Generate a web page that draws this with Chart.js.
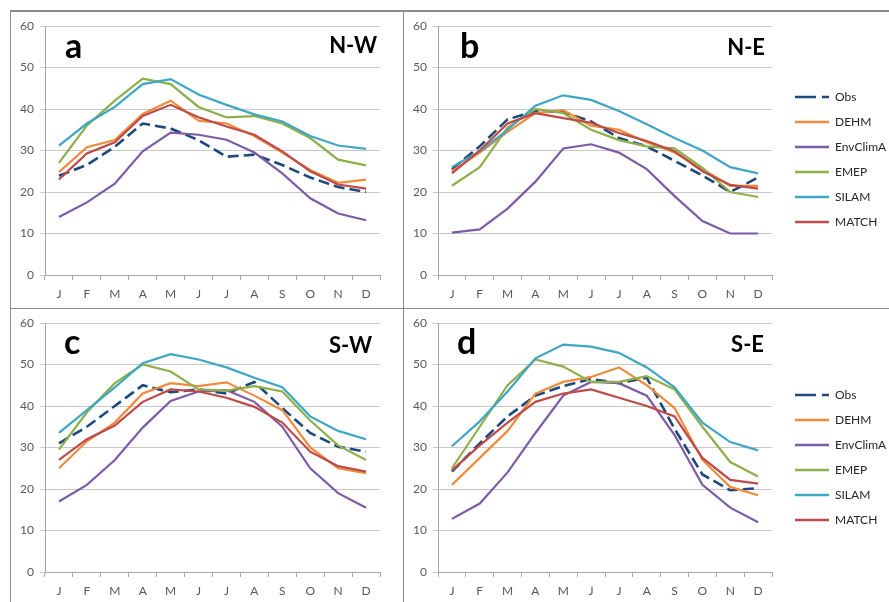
<!DOCTYPE html>
<html><head><meta charset="utf-8">
<script src="https://cdn.jsdelivr.net/npm/chart.js@4/dist/chart.umd.min.js"></script>
<style>
html,body{margin:0;padding:0;background:#fff;width:889px;height:602px;overflow:hidden;font-family:Lato,sans-serif}
.c{position:absolute}
.ln{position:absolute;background:#8c8c8c}
</style></head><body>
<div class="ln" style="left:10px;top:10px;width:879px;height:2px"></div>
<div class="ln" style="left:10px;top:10px;width:1px;height:592px"></div>
<div class="ln" style="left:403px;top:10px;width:1px;height:592px"></div>
<div class="ln" style="left:10px;top:308px;width:879px;height:1px"></div>
<div class="c" style="left:11px;top:12px;width:391px;height:296px"><canvas id="ca"></canvas></div>
<div class="c" style="left:404px;top:12px;width:485px;height:296px"><canvas id="cb"></canvas></div>
<div class="c" style="left:11px;top:309px;width:391px;height:293px"><canvas id="cc"></canvas></div>
<div class="c" style="left:404px;top:309px;width:485px;height:293px"><canvas id="cd"></canvas></div>
<script>
const months = ['J','F','M','A','M','J','J','A','S','O','N','D'];
const seriesNames = ['Obs','DEHM','EnvClimA','EMEP','SILAM','MATCH'];
const yTicks = [0,10,20,30,40,50,60];

// a: N-W
const nwObs      = [23.9,26.5,30.9,36.5,35.3,32.5,28.5,29.0,26.5,23.5,21.2,20.0];
const nwDEHM     = [24.8,30.8,32.5,38.8,42.0,37.2,36.5,33.5,29.5,25.3,22.2,23.0];
const nwEnvClimA = [14.0,17.5,22.0,29.8,34.3,33.8,32.6,29.5,24.5,18.5,14.8,13.2];
const nwEMEP     = [27.0,36.0,42.0,47.3,46.0,40.5,38.0,38.3,36.5,33.0,27.8,26.4];
const nwSILAM    = [31.2,36.5,40.5,46.0,47.2,43.5,41.0,38.7,37.0,33.5,31.2,30.4];
const nwMATCH    = [23.0,29.3,32.0,38.3,41.0,38.0,35.8,33.8,29.8,25.0,21.8,20.8];
// b: N-E
const neObs      = [25.5,31.0,37.5,39.5,39.3,37.0,33.0,31.0,27.5,24.0,20.0,23.5];
const neDEHM     = [25.0,29.5,34.5,39.0,39.7,36.0,35.0,32.0,29.5,25.5,21.5,21.5];
const neEnvClimA = [10.2,11.0,16.0,22.5,30.5,31.5,29.5,25.5,19.0,13.0,10.0,10.0];
const neEMEP     = [21.5,26.0,35.5,40.0,39.0,35.0,32.5,31.0,30.5,25.8,20.0,18.8];
const neSILAM    = [26.0,29.8,35.0,40.8,43.3,42.2,39.5,36.3,33.0,30.0,26.0,24.5];
const neMATCH    = [24.5,30.0,36.5,39.0,37.8,36.7,34.2,32.3,29.8,25.0,21.7,20.8];
// c: S-W
const swObs      = [31.0,35.0,40.0,45.0,43.3,44.0,43.0,45.8,39.5,33.5,30.2,29.0];
const swDEHM     = [25.0,31.5,36.0,43.0,45.5,44.8,45.7,42.5,39.0,30.0,25.0,23.8];
const swEnvClimA = [17.0,21.0,27.0,34.8,41.2,43.5,43.8,41.0,35.0,25.0,19.0,15.5];
const swEMEP     = [29.5,38.5,45.5,50.0,48.3,44.0,43.7,44.8,43.5,36.5,30.5,27.0];
const swSILAM    = [33.5,39.0,44.5,50.3,52.5,51.2,49.3,46.8,44.5,37.5,34.0,32.0];
const swMATCH    = [27.0,32.0,35.3,41.0,44.0,43.5,42.0,39.8,36.0,29.0,25.5,24.2];
// d: S-E
const seObs      = [24.2,31.0,37.5,42.5,44.8,46.5,45.5,46.8,34.5,23.5,19.7,20.2];
const seDEHM     = [21.0,27.5,34.0,43.0,45.8,47.0,49.3,45.0,39.5,27.0,20.5,18.5];
const seEnvClimA = [12.8,16.5,24.0,33.5,42.5,45.8,45.5,42.5,33.0,21.0,15.5,12.0];
const seEMEP     = [25.0,35.0,45.0,51.2,49.5,45.8,45.8,47.2,44.0,35.0,26.5,23.0];
const seSILAM    = [30.3,36.3,43.5,51.5,54.8,54.3,52.8,49.3,44.5,36.0,31.3,29.3];
const seMATCH    = [24.5,30.5,36.0,41.0,43.0,44.0,42.0,40.0,37.5,27.5,22.2,21.3];

const colors = ['#1F497D','#F08A3C','#7D5BA6','#8DB04A','#3FA6C4','#BE4B48'];
const FONT = 'Lato';

const panelText = {
  id: 'panelText',
  afterDatasetsDraw(chart, args, o) {
    const {ctx, chartArea: a} = chart;
    ctx.save();
    ctx.fillStyle = '#000';
    ctx.textBaseline = 'alphabetic';
    ctx.font = 'bold 34px ' + FONT;
    ctx.textAlign = 'left';
    ctx.fillText(o.letter, a.left + o.lx, a.top + o.ly);
    ctx.font = 'bold 22px ' + FONT;
    ctx.textAlign = 'right';
    ctx.fillText(o.region, a.right - o.rx, a.top + o.ry);
    ctx.restore();
  }
};

function legendItems(chart) {
  return chart.data.datasets.map((ds, i) => ({
    text: ds.label,
    fillStyle: ds.borderColor,
    strokeStyle: ds.borderColor,
    lineWidth: 2.6,
    lineDash: i === 0 ? [21, 6] : [],
    lineCap: 'butt',
    pointStyle: 'line',
    hidden: false,
    datasetIndex: i,
    fontColor: '#262626'
  }));
}

function makeChart(id, series, cfg) {
  const datasets = series.map((d, i) => ({
    label: seriesNames[i],
    data: d,
    borderColor: colors[i],
    backgroundColor: colors[i],
    borderWidth: i === 0 ? 2.6 : 2.2,
    borderDash: i === 0 ? [11,5] : [],
    pointRadius: 0,
    tension: 0,
    order: series.length - i
  }));
  const scales = {
    x: {
      offset: true,
      grid: {display: true, drawOnChartArea: false, drawTicks: true, tickLength: 5, offset: true, color: '#a6a6a6'},
      border: {display: true, color: '#a6a6a6'},
      ticks: {color: '#595959', font: {family: FONT, size: 12}, padding: 7, maxRotation: 0, autoSkip: false},
      afterFit: s => { s.height = 25; }
    },
    y: {
      min: 0, max: 60,
      afterBuildTicks: s => { s.ticks = yTicks.map(v => ({value: v})); },
      grid: {color: '#c8c8c8', tickLength: 5, drawTicks: true},
      border: {display: true, color: '#a6a6a6'},
      ticks: {color: '#595959', font: {family: FONT, size: 12}, padding: 6},
      afterFit: s => { s.width = 34; }
    }
  };
  if (cfg.legend) {
    scales.gap = {
      type: 'linear', position: 'right', display: true,
      grid: {display: false}, border: {display: false}, ticks: {display: false},
      afterFit: s => { s.width = 10; }
    };
  }
  return new Chart(document.getElementById(id), {
    type: 'line',
    data: {labels: months, datasets},
    options: {
      responsive: true,
      maintainAspectRatio: false,
      animation: false,
      layout: {padding: {top: 14, right: cfg.pr, bottom: cfg.pb, left: 0}},
      scales,
      plugins: {
        tooltip: {enabled: false},
        legend: cfg.legend ? {
          display: true, position: 'right', fullSize: false, align: 'center', maxWidth: 107,
          title: {display: true, text: ' ', font: {family: FONT, size: 15, lineHeight: 1.2}, padding: {top: 0, bottom: cfg.tpad}},
          labels: {
            usePointStyle: true, pointStyle: 'line', pointStyleWidth: 34,
            padding: 13, color: '#262626', font: {family: FONT, size: 12},
            generateLabels: legendItems
          }
        } : {display: false},
        panelText: cfg.text
      }
    },
    plugins: [panelText]
  });
}

makeChart('ca', [nwObs,nwDEHM,nwEnvClimA,nwEMEP,nwSILAM,nwMATCH],
  {legend: false, pr: 22, pb: 8, text: {letter: 'a', region: 'N-W', lx: 20, ly: 32, rx: 3, ry: 27}});
makeChart('cb', [neObs,neDEHM,neEnvClimA,neEMEP,neSILAM,neMATCH],
  {legend: true, pr: 0, pb: 8, tpad: 0, text: {letter: 'b', region: 'N-E', lx: 22, ly: 32, rx: 7, ry: 29}});
makeChart('cc', [swObs,swDEHM,swEnvClimA,swEMEP,swSILAM,swMATCH],
  {legend: false, pr: 22, pb: 5, text: {letter: 'c', region: 'S-W', lx: 19, ly: 31, rx: 8, ry: 30}});
makeChart('cd', [seObs,seDEHM,seEnvClimA,seEMEP,seSILAM,seMATCH],
  {legend: true, pr: 0, pb: 5, tpad: 2, text: {letter: 'd', region: 'S-E', lx: 19, ly: 31, rx: 8, ry: 29}});
</script>
</body></html>
